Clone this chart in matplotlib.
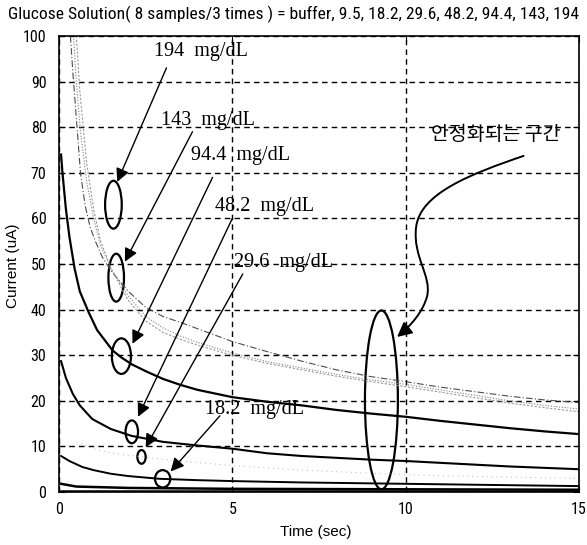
import matplotlib
matplotlib.use('Agg')
import matplotlib.pyplot as plt
from matplotlib import font_manager
from matplotlib.patches import Ellipse, FancyArrowPatch
from matplotlib.path import Path

# ------------------------------------------------------------
# data
# ------------------------------------------------------------
title = 'Glucose Solution( 8 samples/3 times ) = buffer, 9.5, 18.2, 29.6, 48.2, 94.4, 143, 194'

t_194 = [0.33, 0.4, 0.5, 0.62, 0.75, 0.9, 1.05, 1.25, 1.5, 2, 2.5, 3, 3.5, 4, 5, 6, 7, 8, 9, 10, 11, 12, 13, 14, 15]
i_194 = [100, 92, 82, 70, 63, 58, 55, 51.5, 48.5, 44, 40.5, 38.5, 37.2, 35.8, 33, 30.8, 28.7, 26.8, 25.3, 24.2, 23, 22, 21, 20.2, 19.6]

t_143 = [0.42, 0.5, 0.62, 0.8, 1.0, 1.2, 1.5, 2, 2.5, 3, 3.5, 4, 5, 6, 7, 8, 9, 10, 11, 12, 13, 14, 15]
i_143 = [100, 90, 79, 68, 60, 54, 49, 43, 38.5, 36, 34.2, 32.8, 30.5, 28.6, 27.2, 25.8, 24.6, 23.6, 22.4, 21.2, 20, 19, 18.2]

t_143b = [0.5, 0.6, 0.8, 1.0, 1.2, 1.5, 2, 2.5, 3, 3.5, 4, 5, 6, 7, 8, 9, 10, 11, 12, 13, 14, 15]
i_143b = [100, 88, 72, 62, 55, 49, 42, 37.5, 35, 33.5, 32.2, 30, 28.2, 26.8, 25.4, 24.2, 23.1, 21.9, 20.7, 19.5, 18.5, 17.6]

t_94 = [0.06, 0.1, 0.2, 0.3, 0.45, 0.6, 0.85, 1.1, 1.3, 1.55, 1.8, 2.1, 2.5, 3, 3.5, 4, 5, 6, 7, 8, 9, 10, 11, 12, 13, 14, 15]
i_94 = [74, 70, 62, 56, 49, 44, 39.5, 35.5, 33.5, 31, 29.5, 28, 26.5, 24.8, 23.5, 22.4, 20.8, 19.8, 19, 18, 17.2, 16.5, 15.6, 14.8, 14, 13.3, 12.7]

t_48 = [0.06, 0.2, 0.4, 0.6, 0.96, 1.5, 2.1, 3, 4, 5, 6, 7, 8, 9, 10, 11, 12, 13, 14, 15]
i_48 = [28.7, 25, 21.5, 19, 16, 13.8, 12.3, 11, 10.2, 9.5, 8.5, 7.9, 7.5, 7.1, 6.8, 6.4, 6, 5.6, 5.3, 5.0]

t_29 = [0.5, 1, 1.5, 2.4, 3.5, 5, 7, 10, 12, 15]
i_29 = [11, 9.5, 8.5, 7.7, 6.8, 5.8, 4.8, 3.8, 3.4, 3.0]

t_18 = [0.06, 0.3, 0.67, 1, 1.5, 2, 2.9, 4, 5, 7, 10, 12, 15]
i_18 = [7.9, 6.8, 5.5, 4.8, 4, 3.5, 2.9, 2.6, 2.4, 2.1, 1.8, 1.6, 1.3]

t_9 = [0.06, 0.5, 2, 5, 10, 15]
i_9 = [1.8, 1.2, 0.9, 0.7, 0.6, 0.5]

t_buf = [0.06, 15]
i_buf = [0.2, 0.2]

# annotations: label, label pos, arrow tail, arrow head, ellipse (cx, cy, w, h)
labels = ['194  mg/dL', '143  mg/dL', '94.4  mg/dL', '48.2  mg/dL', '29.6  mg/dL', '18.2  mg/dL']
label_xy = [(2.75, 96.5), (2.95, 81.4), (3.8, 73.7), (4.5, 62.7), (5.05, 50.4), (4.2, 18.2)]
tail_xy = [(3.1, 93.0), (3.85, 79.0), (4.43, 69.0), (5.0, 60.0), (5.3, 47.8), (4.64, 16.7)]
head_xy = [(1.68, 68.0), (1.9, 50.5), (2.12, 32.5), (2.28, 16.5), (2.5, 9.8), (3.22, 4.5)]
ellipses = [(1.57, 63, 0.48, 10.5), (1.65, 47, 0.45, 10.5), (1.8, 29.8, 0.55, 7.8),
            (2.1, 13.2, 0.36, 5.0), (2.38, 7.7, 0.24, 3.0), (2.99, 2.9, 0.44, 3.8)]

zone_label = '안정화되는 구간'
zone_label_xy = (12.6, 78.5)
zone_ellipse = (9.3, 20.2, 0.95, 39.2)
zone_arrow = [(13.4, 73.7), (11.9, 69.8), (10.4, 65.5), (10.3, 58.0),
              (10.2, 51.5), (10.75, 47.5), (10.62, 43.0),
              (10.5, 39.5), (10.15, 36.5), (9.75, 34.0)]


def pick_narrow():
    names = sorted({f.name for f in font_manager.fontManager.ttflist})
    for want in ['Liberation Sans Narrow', 'Arial Narrow', 'Roboto Condensed',
                 'Open Sans Condensed', 'DejaVu Sans Condensed', 'Noto Sans Condensed']:
        if want in names:
            return [want, 'DejaVu Sans']
    return None


narrow = pick_narrow()
if narrow is None:
    narrow = ['Liberation Sans', 'DejaVu Sans']
    title_size = 10.2
else:
    title_size = 12.6
sans = ['Liberation Sans', 'DejaVu Sans']
serif = ['Liberation Serif', 'DejaVu Serif']

fig = plt.figure(figsize=(5.87, 5.45), dpi=100)
ax = fig.add_axes([0.1005, 0.0972, 0.8859, 0.8368])

ax.plot(t_194, i_194, color='0.3', lw=0.8, ls=(0, (6, 2, 1, 2)))
ax.plot(t_143, i_143, color='0.5', lw=0.8, ls=(0, (1, 1.5)))
ax.plot(t_143b, i_143b, color='0.6', lw=0.8, ls=(0, (2, 1.5)))
ax.plot(t_94, i_94, color='k', lw=1.6)
ax.plot(t_48, i_48, color='k', lw=1.5)
ax.plot(t_29, i_29, color='0.7', lw=0.7, ls=(0, (1, 4)))
ax.plot(t_18, i_18, color='k', lw=1.4)
ax.plot(t_9, i_9, color='k', lw=1.8)
ax.plot(t_buf, i_buf, color='k', lw=1.8)

ax.set_xlim(0, 15)
ax.set_ylim(0, 100)
ax.set_xticks([0, 5, 10, 15])
ax.set_yticks(range(0, 101, 10))
ax.grid(True, color='k', lw=1.0, ls=(0, (4, 3)))
ax.tick_params(direction='in', length=4, top=True, right=True, labelsize=11.5)
ax.tick_params(axis='x', pad=7)
ax.tick_params(axis='y', pad=9)
for lab in ax.get_xticklabels() + ax.get_yticklabels():
    lab.set_family(narrow)
for s in ax.spines.values():
    s.set_linewidth(1.2)

for k in range(len(labels)):
    ax.text(label_xy[k][0], label_xy[k][1], labels[k], family=serif, fontsize=14.5,
            va='center', ha='left')
    ax.annotate('', xy=head_xy[k], xytext=tail_xy[k],
                arrowprops=dict(arrowstyle='-|>', color='k', lw=1.0, mutation_scale=20,
                                shrinkA=0, shrinkB=0))
    cx, cy, w, h = ellipses[k]
    ax.add_patch(Ellipse((cx, cy), w, h, fill=False, ec='k', lw=1.6))

ax.text(zone_label_xy[0], zone_label_xy[1], zone_label, family=['Noto Sans CJK KR', 'DejaVu Sans'],
        fontsize=14, ha='center', va='center')
cx, cy, w, h = zone_ellipse
ax.add_patch(Ellipse((cx, cy), w, h, fill=False, ec='k', lw=1.6))
codes = [Path.MOVETO] + [Path.CURVE4] * 9
ax.add_patch(FancyArrowPatch(path=Path(zone_arrow, codes), arrowstyle='-|>', color='k',
                             lw=1.4, mutation_scale=22))

fig.text(0.5, 1 - 14 / 545, title, family=narrow, fontsize=title_size, ha='center', va='center')
fig.text(13 / 587, 1 - 266 / 545, 'Current (uA)', family=sans, fontsize=11, rotation=90,
         ha='center', va='center')
fig.text(316 / 587, 1 - 532 / 545, 'Time (sec)', family=sans, fontsize=11, ha='center', va='center')

fig.savefig('out.png', dpi=100)
